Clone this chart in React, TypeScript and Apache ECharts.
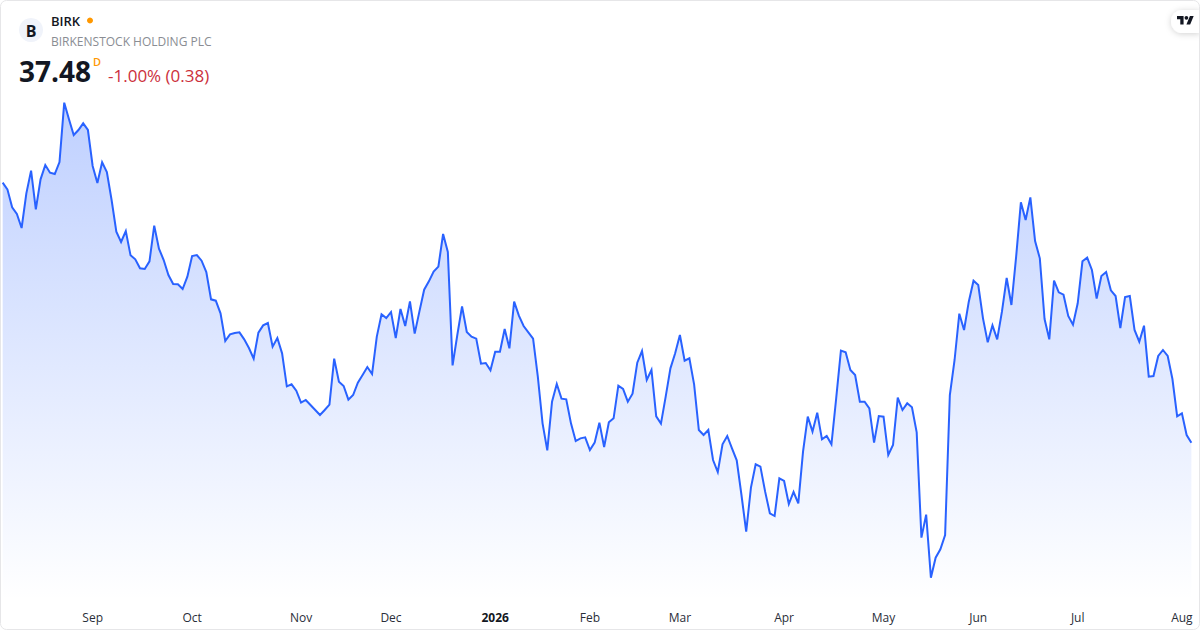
import React, { useEffect, useRef } from "react";
import * as echarts from "echarts";

const pricesA = [53.08,52.68,51.60,51.20,50.36,52.44,53.80,51.48,53.28,54.14,53.68,53.60,54.32,57.88,56.88,55.94,56.24,56.64,56.24,54.08,53.06,54.30,53.72,52.04,50.14,49.52,50.18,48.72,48.48,47.94,47.90,48.36,50.50,49.12,48.44,47.54,47.00,46.98,46.70,47.44,48.68,48.74,48.40,47.72,46.08,46.00,45.24,43.58,43.98,44.06,44.10,43.68,43.16,42.52,44.08,44.52,44.66,43.24,43.76,42.84,40.86,40.98,40.60];
const pricesB = [39.88,40.04,39.74,39.44,39.14,39.44,39.76,42.52,41.14,40.88,40.06,40.34,41.08,41.54,42.02,41.60,43.84,45.18,44.96,45.32,43.76,45.50,44.48,45.96,44.02,45.36,46.66,47.16,47.74,48.04,50.00,48.92,42.12,43.94,45.66,44.12,43.84,43.72,42.22,42.26,41.82,42.94,42.94,44.30,43.14,45.94,45.10,44.48,44.10,43.72,41.44,38.64,37.02,39.94,41.00,40.12,40.08,38.64,37.58,37.74,37.80,37.04,37.48,38.68];
const pricesC = [37.22,38.70,38.94,40.90,40.70,39.94,40.42,42.28,42.98,41.24,41.84,39.06,38.62,40.24,41.94,42.84,43.94,42.40,42.54,40.98,38.24,37.94,38.24,36.44,35.72,37.38,37.88,37.14,36.42,34.34,32.14,34.78,36.18,36.04,34.54,33.24,33.08,35.34,35.18,33.80,34.52,33.84,36.94,39.04,38.14,39.28,37.68,37.88,37.38,40.14,43.00,42.90,41.84,41.54,39.94,39.94,39.54,37.48,39.08,39.04,36.74,37.34,40.18];
const pricesD = [39.44,39.84,39.60,38.10,31.78,33.16,29.38,30.58,31.08,31.94,40.34,42.44,45.22,44.24,45.94,47.20,46.94,44.94,43.50,44.52,43.68,45.34,47.36,45.74,48.64,51.90,50.84,52.20,49.58,48.54,44.90,43.68,47.20,46.50,46.36,45.08,44.56,45.84,48.36,48.58,47.84,46.12,47.48,47.72,46.62,46.28,44.36,46.22,46.28,44.24,43.54,44.50,41.44,41.48,42.68,43.04,42.68,41.30,39.06,39.24,37.94,37.48];
const prices = [...pricesA, ...pricesB, ...pricesC, ...pricesD];

const tickLabels = ["Sep", "Oct", "Nov", "Dec", "2026", "Feb", "Mar", "Apr", "May", "Jun", "Jul", "Aug"];
const tickSessions = [19, 40, 63, 82, 104, 124, 143, 165, 186, 206, 227, 249];
const categories = prices.map((_, i) => {
  const t = tickSessions.indexOf(i);
  return t >= 0 ? tickLabels[t] : "";
});

const symbol = "BIRK";
const companyName = "BIRKENSTOCK HOLDING PLC";
const lastPrice = "37.48";
const changeText = "-1.00% (0.38)";
const FONT = "'Open Sans', sans-serif";

echarts.graphic.registerShape(
  "tvGlyph",
  echarts.graphic.extendPath(
    "M14 22H7V11H0V4h14v18zM28 22h-8l7.5-18h8L28 22zM24 8a4 4 0 1 1-8 0 4 4 0 0 1 8 0z",
    {}
  )
);

export default function App() {
  const ref = useRef<HTMLDivElement>(null);
  useEffect(() => {
    document.body.style.margin = "0";
    document.body.style.overflow = "hidden";
    document.body.style.background = "#fff";
    const chart = echarts.init(ref.current!, null, { renderer: "svg" });
    chart.setOption({
      animation: false,
      backgroundColor: "#ffffff",
      textStyle: { fontFamily: FONT },
      grid: { left: 2.67, width: 1188.7, top: 0, height: 600 },
      xAxis: {
        type: "category",
        data: categories,
        boundaryGap: false,
        axisLine: { show: false },
        axisTick: { show: false },
        splitLine: { show: false },
        axisLabel: {
          interval: (i: number) => tickSessions.includes(i),
          margin: 11,
          color: "#2a2e39",
          fontSize: 12,
          fontFamily: FONT,
          formatter: (v: string) => (v === "2026" ? "{y|2026}" : v),
          rich: { y: { fontWeight: 700, fontSize: 12, color: "#131722", fontFamily: FONT } },
        },
      },
      yAxis: { type: "value", min: 28.04, max: 64.04, show: false },
      series: [
        {
          type: "line",
          data: prices,
          showSymbol: false,
          smooth: false,
          lineStyle: { color: "#2962ff", width: 2, join: "miter" },
          itemStyle: { color: "#2962ff" },
          areaStyle: {
            opacity: 1,
            color: new echarts.graphic.LinearGradient(0, 0, 0, 1, [
              { offset: 0, color: "rgba(41,98,255,0.3)" },
              { offset: 1, color: "rgba(41,98,255,0)" },
            ]),
          },
        },
      ],
      graphic: [
        { type: "circle", shape: { cx: 31, cy: 30, r: 12 }, style: { fill: "#f0f3fa" } },
        { type: "text", style: { x: 31, y: 30.5, text: "B", fill: "#131722", font: `700 16px ${FONT}`, textAlign: "center", textVerticalAlign: "middle" } },
        { type: "text", style: { x: 51, y: 21, text: symbol, fill: "#131722", font: `600 13px ${FONT}`, textVerticalAlign: "middle" } },
        { type: "circle", shape: { cx: 90, cy: 20.5, r: 3 }, style: { fill: "#ff9800" } },
        { type: "text", style: { x: 51, y: 41, text: companyName, fill: "#8a8d93", font: `400 12px ${FONT}`, textVerticalAlign: "middle" } },
        { type: "text", style: { x: 19, y: 71, text: lastPrice, fill: "#131722", font: `700 28px ${FONT}`, textVerticalAlign: "middle" } },
        { type: "text", style: { x: 93, y: 61, text: "D", fill: "#ff9800", font: `600 11px ${FONT}`, textVerticalAlign: "middle" } },
        { type: "text", style: { x: 108, y: 75, text: changeText, fill: "#cc2f3c", font: `400 17px ${FONT}`, textVerticalAlign: "middle" } },
        {
          type: "rect",
          shape: { x: 1171, y: 10, width: 29, height: 23, r: [12, 0, 0, 12] },
          style: { fill: "#fff", shadowBlur: 6, shadowColor: "rgba(0,0,0,0.18)", shadowOffsetY: 1 },
        },
        { type: "tvGlyph", x: 1177, y: 14.1, scaleX: 0.47, scaleY: 0.47, style: { fill: "#131722" } },
        {
          type: "rect",
          shape: { x: 0.5, y: 0.5, width: 1199, height: 629, r: 6 },
          style: { fill: "none", stroke: "#e6e6e8", lineWidth: 1 },
        },
      ],
    });
    return () => chart.dispose();
  }, []);
  return <div ref={ref} style={{ width: 1200, height: 630 }} />;
}
